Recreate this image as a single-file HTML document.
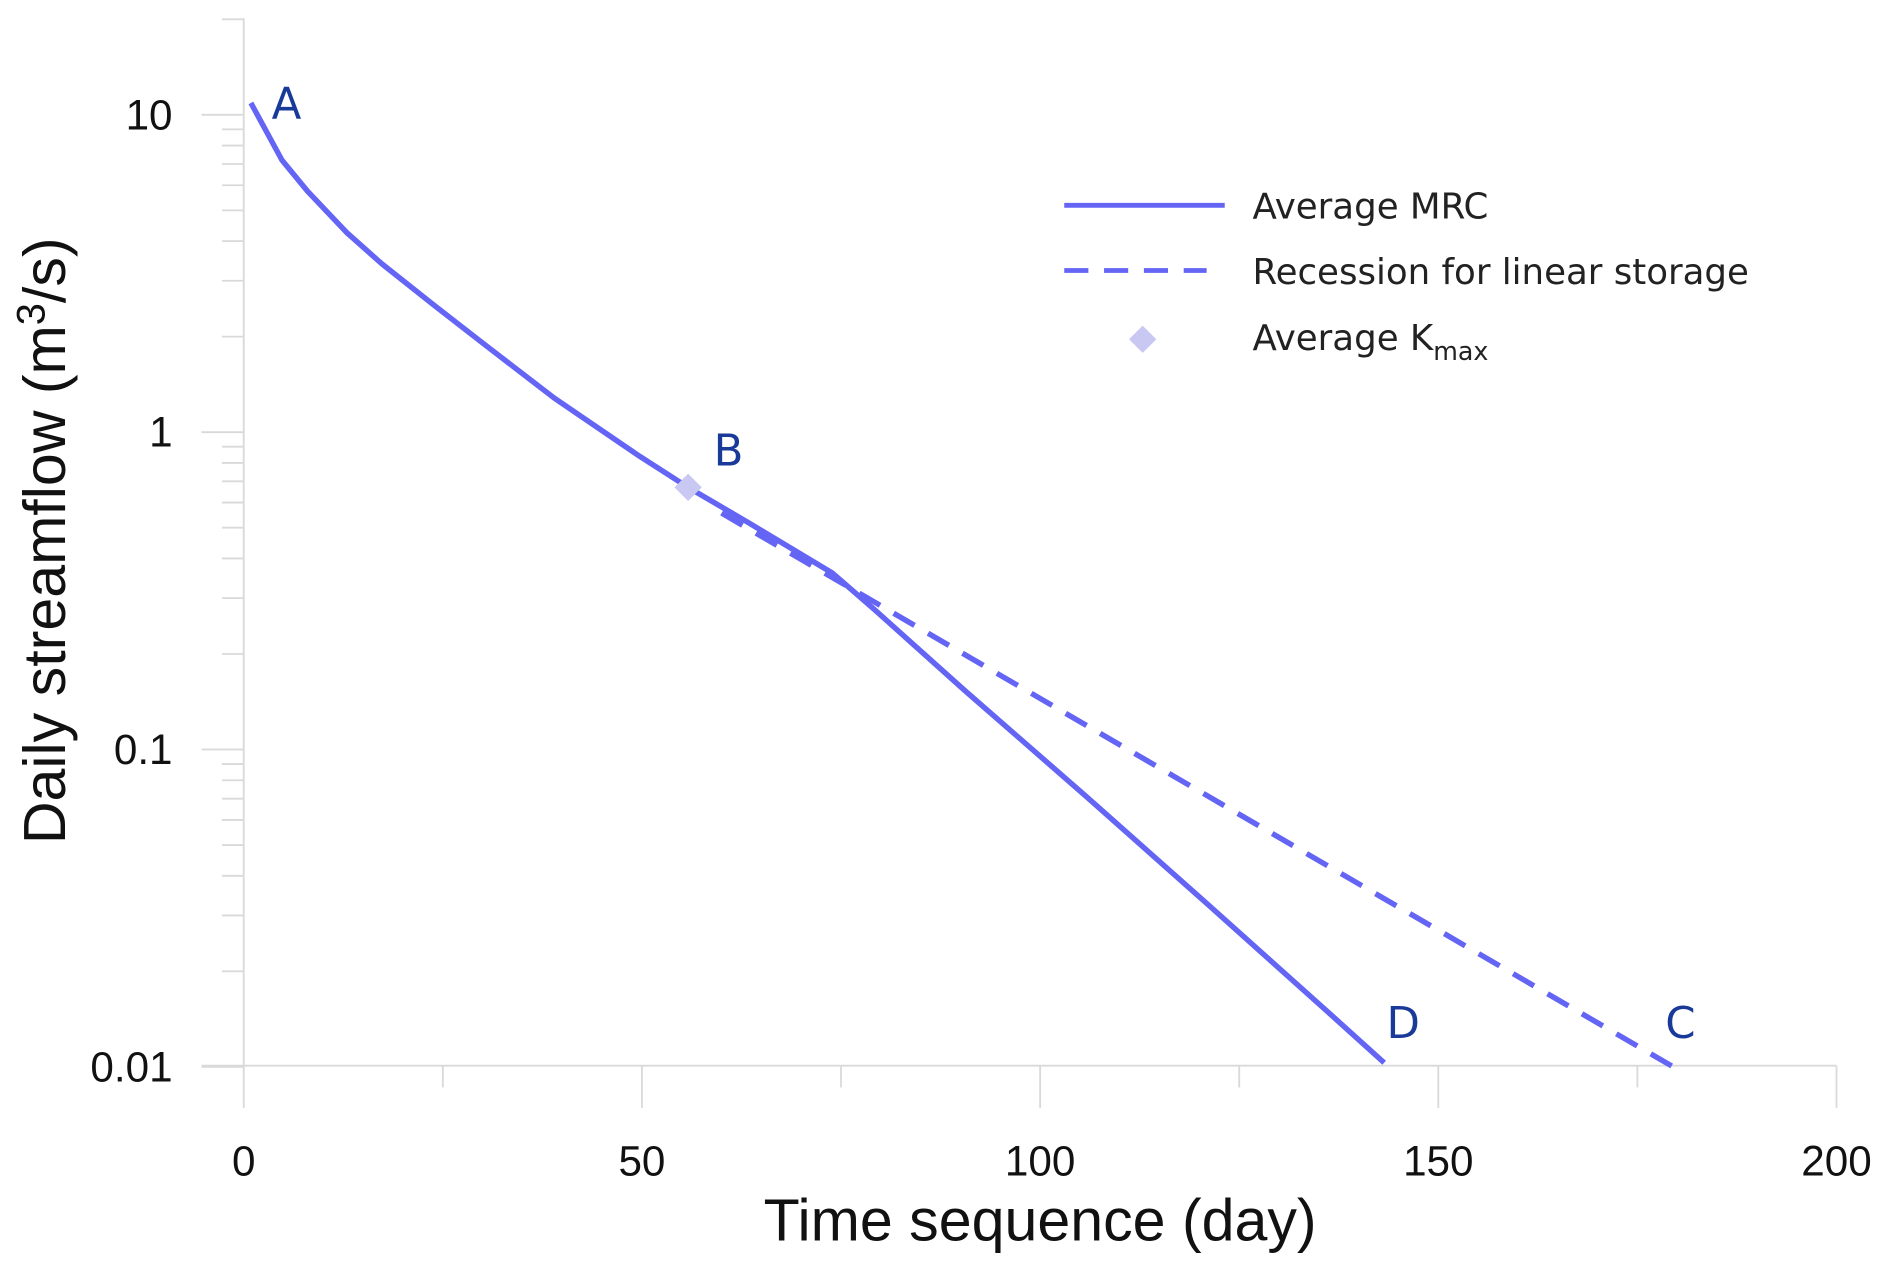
<!DOCTYPE html>
<html><head><meta charset="utf-8"><style>
html,body{margin:0;padding:0;background:#fff;}
svg{display:block;font-family:"Liberation Sans",Arial,sans-serif;}
.lbl{font-family:"DejaVu Sans","Liberation Sans",sans-serif;}
</style></head><body>
<svg id="chart" width="1892" height="1271" viewBox="0 0 1568 1053" xmlns="http://www.w3.org/2000/svg">
<g id="axes"></g>
<g id="series"></g>
<g>
  <line x1="882" y1="170" x2="1015" y2="170" stroke="#6464f5" stroke-width="4"/>
  <text class="lbl" x="1038" y="181" font-size="29.5" fill="#222">Average MRC</text>
  <line x1="882" y1="224" x2="1000" y2="224" stroke="#6464f5" stroke-width="4" stroke-dasharray="20,13"/>
  <text class="lbl" x="1038" y="235" font-size="29.5" fill="#222">Recession for linear storage</text>
  <rect x="939" y="273" width="16" height="16" fill="#c8c8f2" transform="rotate(45 947 281)"/>
  <text class="lbl" x="1038" y="290" font-size="29.5" fill="#222">Average K<tspan font-size="21" dy="8">max</tspan></text>
</g>
<text x="862" y="1028" font-size="49" text-anchor="middle" fill="#111">Time sequence (day)</text>
<text transform="translate(54 448) rotate(-90)" font-size="49" text-anchor="middle" fill="#111">Daily streamflow (m<tspan font-size="33" dy="-17">3</tspan><tspan dy="17">/s)</tspan></text>
</svg>
<script>
const xTicks=[0,50,100,150,200];
const xMinor=[25,75,125,175];
const yTicks=[0.01,0.1,1,10];
const yTickLabels=["0.01","0.1","1","10"];
const mrcDays=[0.9,4.8,8,13,17.3,24,30,39,49.7,55.8,63.3,73.9,79.2,90.6,105.8,121,136,143.2];
const mrcFlow=[10.9,7.2,5.75,4.24,3.4,2.5,1.91,1.28,0.84,0.67,0.52,0.36,0.276,0.153,0.0711,0.0326,0.015,0.0103];
const linDays=[60,179.5];
const linFlow=[0.556,0.01];
const kmaxDay=[55.8];
const kmaxFlow=[0.67];
const pointLabels=["A","B","D","C"];
const pointLabelDays=[3.5,59,143.5,178.5];
const pointLabelFlow=[10.9,0.88,0.0138,0.0138];

const NS="http://www.w3.org/2000/svg";
const X=d=>202+d*6.6;
const Y=q=>358-Math.log10(q)*263;
function el(t,a,p){const e=document.createElementNS(NS,t);for(const k in a)e.setAttribute(k,a[k]);p.appendChild(e);return e;}
const ax=document.getElementById('axes'), se=document.getElementById('series');
const g="#d9d9d9";
let e;
e=el('line',{x1:202,y1:15,x2:202,y2:883,stroke:g,'stroke-width':1.5},ax);


e=el('line',{x1:167,y1:883,x2:1522,y2:883,stroke:g,'stroke-width':1.5},ax);


xTicks.forEach(v=>{
  const t=el('line',{x1:X(v),y1:883,x2:X(v),y2:918,stroke:g,'stroke-width':1.5},ax);
  
  
  const l=el('text',{x:X(v),y:974,'font-size':35,'text-anchor':'middle',fill:'#111'},ax);
  l.textContent=v;
  
  
});
xMinor.forEach(v=>{
  const t=el('line',{x1:X(v),y1:883,x2:X(v),y2:901,stroke:g,'stroke-width':1.5},ax);
  
  
});
yTicks.forEach((v,i)=>{
  const t=el('line',{x1:167,y1:Y(v),x2:202,y2:Y(v),stroke:g,'stroke-width':1.5},ax);
  
  
  const l=el('text',{x:143,y:Y(v)+12,'font-size':35,'text-anchor':'end',fill:'#111'},ax);
  l.textContent=yTickLabels[i];
  
  
  for(let m=2;m<=9;m++){ if(v*m>20)break;
    const mt=el('line',{x1:184,y1:Y(v*m),x2:202,y2:Y(v*m),stroke:g,'stroke-width':1.5},ax);
    
    
  }
});
const pts=(ds,qs)=>ds.map((d,i)=>X(d)+','+Y(qs[i])).join(' ');
e=el('polyline',{points:pts(linDays,linFlow),fill:'none',stroke:'#6464f5','stroke-width':4.5,'stroke-dasharray':'20,13'},se);


e=el('polyline',{points:pts(mrcDays,mrcFlow),fill:'none',stroke:'#6464f5','stroke-width':4.5,'stroke-linejoin':'round'},se);


kmaxDay.forEach((d,i)=>{
  const cx=X(d),cy=Y(kmaxFlow[i]);
  const r=el('rect',{x:cx-8,y:cy-8,width:16,height:16,fill:'#c8c8f2',transform:`rotate(45 ${cx} ${cy})`},se);
  
  
});
pointLabels.forEach((s,i)=>{
  const t=el('text',{class:'lbl',x:X(pointLabelDays[i]),y:Y(pointLabelFlow[i])+13,'font-size':36,fill:'#1a3a9a'},se);
  t.textContent=s;
  
  
});
</script>
</body></html>
